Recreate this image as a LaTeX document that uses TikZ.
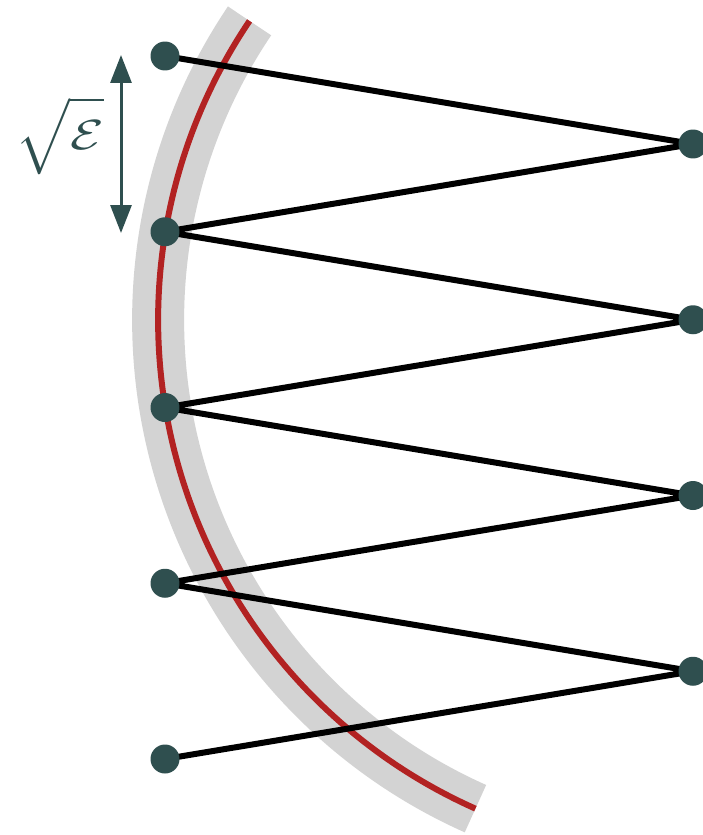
\documentclass[tikz,border=0pt]{standalone}
\usetikzlibrary{arrows.meta}
\definecolor{slate}{HTML}{2F4F4F}
\definecolor{band}{HTML}{D3D3D3}
\definecolor{curve}{HTML}{B22222}

\begin{document}
\begin{tikzpicture}[
  x=0.02cm,y=-0.02cm,
  dot/.style={circle,fill=slate,minimum size=0.58cm,inner sep=0pt},
  zig/.style={line width=0.12cm,line join=round,black},
  gap/.style={{Triangle[length=0.56cm,width=0.42cm]}-{Triangle[length=0.56cm,width=0.42cm]},line width=0.06cm,slate}
]
  \useasboundingbox (0,0) rectangle (703,835);

  % circle through the left points, centred on the second right point
  \coordinate (o) at (693,320);
  \draw[band,line width=1.04cm] (o) ++(146:10.7cm) arc[start angle=146,end angle=246,radius=10.7cm];
  \draw[curve,line width=0.12cm] (o) ++(146:10.7cm) arc[start angle=146,end angle=246,radius=10.7cm];

  % points
  \foreach \i in {1,...,5}
    \coordinate (l\i) at (165,{56+175.75*(\i-1)});
  \foreach \i in {1,...,4}
    \coordinate (r\i) at (693,{144+175.75*(\i-1)});

  \draw[zig] (l1) -- (r1) -- (l2) -- (r2) -- (l3) -- (r3) -- (l4) -- (r4) -- (l5);

  \foreach \i in {1,...,5}
    \node[dot] (dl\i) at (l\i) {};
  \foreach \i in {1,...,4}
    \node[dot] (dr\i) at (r\i) {};

  % spacing
  \coordinate (top) at (121,55);
  \coordinate (bot) at (121,233);
  \draw[gap] (top) -- (bot);
  \node[slate,inner sep=0pt] (eps) at (60,136) {\scalebox{3.1}[2.4]{$\sqrt{\vphantom{\big|}\mathcal{E}}$}};
\end{tikzpicture}
\end{document}
